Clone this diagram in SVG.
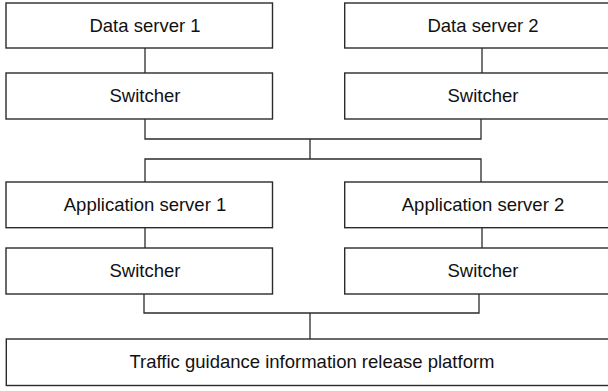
<svg xmlns="http://www.w3.org/2000/svg" width="608" height="391" viewBox="0 0 608 391">
<style>
.box{fill:#fff;stroke:#2b2b2b;stroke-width:1.4}
.lbl{font-family:"Liberation Sans",Arial,sans-serif;font-size:18.5px;fill:#111;text-anchor:middle}
.con{fill:none;stroke:#2b2b2b;stroke-width:1.3}
</style>
<rect width="608" height="391" fill="#fff"/>
<g id="connectors">
<path class="con" d="M145,48 V73"/>
<path class="con" d="M482,48 V73"/>
<path class="con" d="M145,119 V139 H481 V119"/>
<path class="con" d="M310,139 V159"/>
<path class="con" d="M145,182 V159 H481 V182"/>
<path class="con" d="M145,228 V248"/>
<path class="con" d="M482,228 V248"/>
<path class="con" d="M144,294 V313 H479 V294"/>
<path class="con" d="M310,313 V339"/>
</g>
<g id="ds1"><rect class="box" x="6" y="3" width="266.5" height="45"/><text class="lbl" x="145" y="32">Data server 1</text></g>
<g id="ds2"><rect class="box" x="344.7" y="3" width="266" height="45"/><text class="lbl" x="483" y="32">Data server 2</text></g>
<g id="sw1"><rect class="box" x="6" y="73" width="266.5" height="46"/><text class="lbl" x="145" y="102">Switcher</text></g>
<g id="sw2"><rect class="box" x="344.7" y="73" width="266" height="46"/><text class="lbl" x="483" y="102">Switcher</text></g>
<g id="as1"><rect class="box" x="6" y="182" width="266.5" height="45.7"/><text class="lbl" x="145" y="211">Application server 1</text></g>
<g id="as2"><rect class="box" x="344.7" y="182" width="266" height="45.7"/><text class="lbl" x="483" y="211">Application server 2</text></g>
<g id="sw3"><rect class="box" x="6" y="248" width="266.5" height="46"/><text class="lbl" x="145" y="277">Switcher</text></g>
<g id="sw4"><rect class="box" x="344.7" y="248" width="266" height="46"/><text class="lbl" x="483" y="277">Switcher</text></g>
<g id="platform"><rect class="box" x="6.3" y="339" width="604" height="46.5"/><text class="lbl" x="312" y="368">Traffic guidance information release platform</text></g>
</svg>
